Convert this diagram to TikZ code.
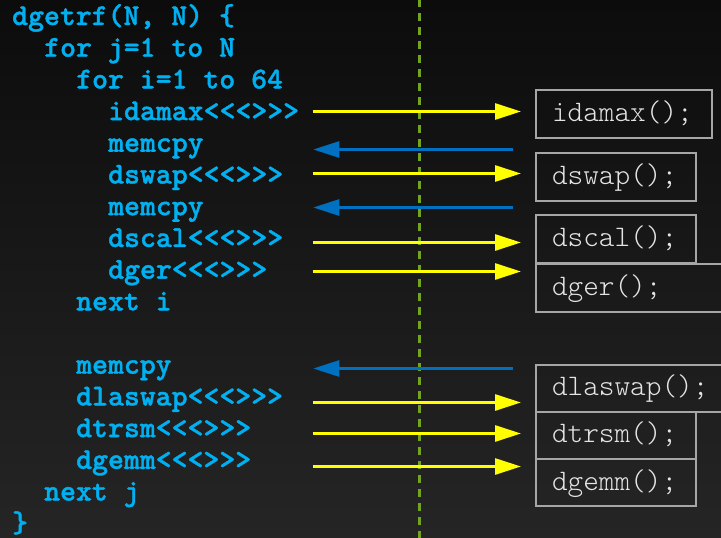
\documentclass[tikz,border=0pt]{standalone}
\usepackage{fontspec}
\newfontfamily\codefont{lmmonolt10-bold.otf}[FakeBold=1.3]
\newfontfamily\kernelfont{lmmonolt10-regular.otf}
\usetikzlibrary{arrows.meta,calc}

\definecolor{bgtop}{HTML}{0C0C0C}
\definecolor{bgbot}{HTML}{252525}
\definecolor{codeblue}{HTML}{00B0F0}
\definecolor{callyellow}{HTML}{FFFF00}
\definecolor{copyblue}{HTML}{0070C0}
\definecolor{boxgray}{HTML}{A6A6A6}
\definecolor{boxtext}{HTML}{E4E4E4}
\definecolor{splitgreen}{HTML}{72A41E}

\tikzset{
  codeline/.style={anchor=base west, inner sep=0pt, text=codeblue,
    font=\codefont\fontsize{30.3}{34}\selectfont},
  kernel/.style={draw=boxgray, line width=2pt, anchor=north west,
    text=boxtext, align=left, inner xsep=15pt, inner ysep=0pt,
    text height=19.5pt, text depth=4.5pt,
    font=\kernelfont\fontsize{29.8}{34}\selectfont},
  launch/.style={draw=callyellow, line width=2.8pt,
    -{Triangle[length=26pt,width=16pt]}, shorten >=14pt},
  copyback/.style={draw=copyblue, line width=2.8pt,
    -{Triangle[length=26pt,width=16pt]}},
  hostdevice/.style={draw=splitgreen, line width=3pt,
    dash pattern=on 7.5pt off 6.5pt}
}

\begin{document}
\begin{tikzpicture}[x=1pt,y=-1pt]
  \useasboundingbox (0,0) rectangle (721,538);
  \clip (0,0) rectangle (721,538);
  \shade[top color=bgtop, bottom color=bgbot] (0,0) rectangle (721,538);

  % host / device separator
  \coordinate (sepTop) at (419.5,-0.7);
  \coordinate (sepBot) at (419.5,540);
  \draw[hostdevice] (sepTop) -- (sepBot);

  % host-side code
  \node[codeline] (l0)  at (12,25)    {dgetrf(N, N) \{};
  \node[codeline] (l1)  at (44,56.7)  {for j=1 to N};
  \node[codeline] (l2)  at (76,88.4)  {for i=1 to 64};
  \node[codeline] (l3)  at (108,120.1){idamax<<<>>>};
  \node[codeline] (l4)  at (108,151.8){memcpy};
  \node[codeline] (l5)  at (108,183.5){dswap<<<>>>};
  \node[codeline] (l6)  at (108,215.2){memcpy};
  \node[codeline] (l7)  at (108,246.9){dscal<<<>>>};
  \node[codeline] (l8)  at (108,278.6){dger<<<>>>};
  \node[codeline] (l9)  at (76,310.3) {next i};
  \node[codeline] (l11) at (76,373.7) {memcpy};
  \node[codeline] (l12) at (76,405.4) {dlaswap<<<>>>};
  \node[codeline] (l13) at (76,437.1) {dtrsm<<<>>>};
  \node[codeline] (l14) at (76,468.8) {dgemm<<<>>>};
  \node[codeline] (l15) at (44,500.5) {next j};
  \node[codeline] (l16) at (12,532.2) {\}};

  % device-side kernels
  \node[kernel, minimum width=176pt, minimum height=48pt, text width=144pt]
    (kIdamax) at (535,89.3) {idamax();};
  \node[kernel, minimum width=160pt, minimum height=48.3pt, text width=128pt]
    (kDswap) at (535,151.7) {dswap();};
  \node[kernel, minimum width=160pt, minimum height=48pt, text width=128pt]
    (kDscal) at (535,213.7) {dscal();};
  \node[kernel, minimum width=225pt, minimum height=48pt, text width=193pt]
    (kDger) at (535,262.7) {dger();};
  \node[kernel, minimum width=225pt, minimum height=47pt, text width=193pt]
    (kDlaswap) at (535,363.7) {dlaswap();};
  \node[kernel, minimum width=160pt, minimum height=47.3pt, text width=128pt]
    (kDtrsm) at (535,410.7) {dtrsm();};
  \node[kernel, minimum width=160pt, minimum height=47.3pt, text width=128pt]
    (kDgemm) at (535,458) {dgemm();};

  % kernel launches
  \coordinate (aIdamax)  at (312.7,111.5);
  \coordinate (aDswap)   at (312.7,173.5);
  \coordinate (aDscal)   at (312.7,242.5);
  \coordinate (aDger)    at (312.7,271.5);
  \coordinate (aDlaswap) at (312.7,402.5);
  \coordinate (aDtrsm)   at (312.7,433.5);
  \coordinate (aDgemm)   at (312.7,466.5);
  \draw[launch] (aIdamax)  -- (aIdamax  -| kIdamax.west);
  \draw[launch] (aDswap)   -- (aDswap   -| kDswap.west);
  \draw[launch] (aDscal)   -- (aDscal   -| kDscal.west);
  \draw[launch] (aDger)    -- (aDger    -| kDger.west);
  \draw[launch] (aDlaswap) -- (aDlaswap -| kDlaswap.west);
  \draw[launch] (aDtrsm)   -- (aDtrsm   -| kDtrsm.west);
  \draw[launch] (aDgemm)   -- (aDgemm   -| kDgemm.west);

  % copies back to the host
  \coordinate (cA0) at (512.7,149.5);  \coordinate (cA1) at (313.3,149.5);
  \coordinate (cB0) at (512.7,207.5);  \coordinate (cB1) at (313.3,207.5);
  \coordinate (cC0) at (512.7,368.5);  \coordinate (cC1) at (313.3,368.5);
  \draw[copyback] (cA0) -- (cA1);
  \draw[copyback] (cB0) -- (cB1);
  \draw[copyback] (cC0) -- (cC1);
\end{tikzpicture}
\end{document}
